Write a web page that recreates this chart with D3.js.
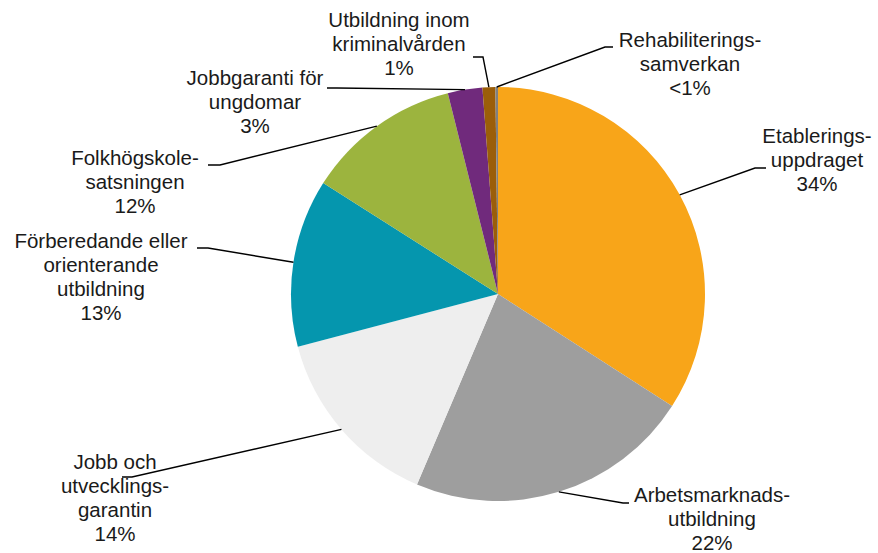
<!DOCTYPE html>
<html>
<head>
<meta charset="utf-8">
<script src="https://cdn.jsdelivr.net/npm/d3@7"></script>
<style>
  html, body { margin: 0; padding: 0; background: #ffffff; }
  svg { display: block; }
  text { font-family: "Liberation Sans", Arial, sans-serif; font-size: 20.5px; fill: #1a1a1a; }
</style>
</head>
<body>
<svg id="chart" width="878" height="553"></svg>
<script>
// ---- data ----
const categories = [
  "Etableringsuppdraget",
  "Arbetsmarknadsutbildning",
  "Jobb och utvecklingsgarantin",
  "Förberedande eller orienterande utbildning",
  "Folkhögskolesatsningen",
  "Jobbgaranti för ungdomar",
  "Utbildning inom kriminalvården",
  "Rehabiliteringssamverkan"
];
const values = [34.1, 22.3, 14.5, 13.1, 12.1, 2.7, 1.0, 0.2];
const percentLabels = ["34%", "22%", "14%", "13%", "12%", "3%", "1%", "<1%"];
const labelLines = [
  ["Etablerings-", "uppdraget"],
  ["Arbetsmarknads-", "utbildning"],
  ["Jobb och", "utvecklings-", "garantin"],
  ["Förberedande eller", "orienterande", "utbildning"],
  ["Folkhögskole-", "satsningen"],
  ["Jobbgaranti för", "ungdomar"],
  ["Utbildning inom", "kriminalvården"],
  ["Rehabiliterings-", "samverkan"]
];
const colors = ["#F8A519", "#9E9E9E", "#EEEEEE", "#0596AE", "#9CB43E", "#702A7C", "#9B5E09", "#808080"];

// ---- layout ----
const cx = 498, cy = 294, R = 207;
const lineH = 24;
// label anchor: [center x, first baseline], leader: [elbow x, elbow y, end x]
const labelLayout = [
  {x: 817, y: 143, ex: 755, ey: 168, hx: 766},
  {x: 712, y: 502, ex: 623, ey: 503, hx: 629},
  {x: 115, y: 469, ex: 132, ey: 477, hx: 122},
  {x: 101, y: 248, ex: 208, ey: 248, hx: 197},
  {x: 135, y: 165, ex: 220, ey: 165, hx: 208},
  {x: 255, y: 85,  ex: 337, ey: 88,  hx: 327},
  {x: 399, y: 27,  ex: 483, ey: 57,  hx: 473},
  {x: 690, y: 47,  ex: 605, ey: 47,  hx: 613}
];

const svg = d3.select("#chart");
const g = svg.append("g").attr("transform", `translate(${cx},${cy})`);

const pie = d3.pie().sort(null).value(d => d)
  .startAngle(0).endAngle(2 * Math.PI);
const arcs = pie(values);
const arc = d3.arc().innerRadius(0).outerRadius(R);

g.selectAll("path.slice")
  .data(arcs)
  .join("path")
  .attr("class", "slice")
  .attr("d", arc)
  .attr("fill", (d, i) => colors[i]);

// leader lines
arcs.forEach((d, i) => {
  const a = (d.startAngle + d.endAngle) / 2;
  const px = cx + R * Math.sin(a);
  const py = cy - R * Math.cos(a);
  const L = labelLayout[i];
  svg.append("polyline")
    .attr("points", `${px},${py} ${L.ex},${L.ey} ${L.hx},${L.ey}`)
    .attr("fill", "none")
    .attr("stroke", "#000")
    .attr("stroke-width", 1.4);
});

// labels
labelLines.forEach((lines, i) => {
  const L = labelLayout[i];
  const t = svg.append("text").attr("text-anchor", "middle");
  const all = lines.concat([percentLabels[i]]);
  all.forEach((s, k) => {
    t.append("tspan").attr("x", L.x).attr("y", L.y + k * lineH).text(s);
  });
});
</script>
</body>
</html>
